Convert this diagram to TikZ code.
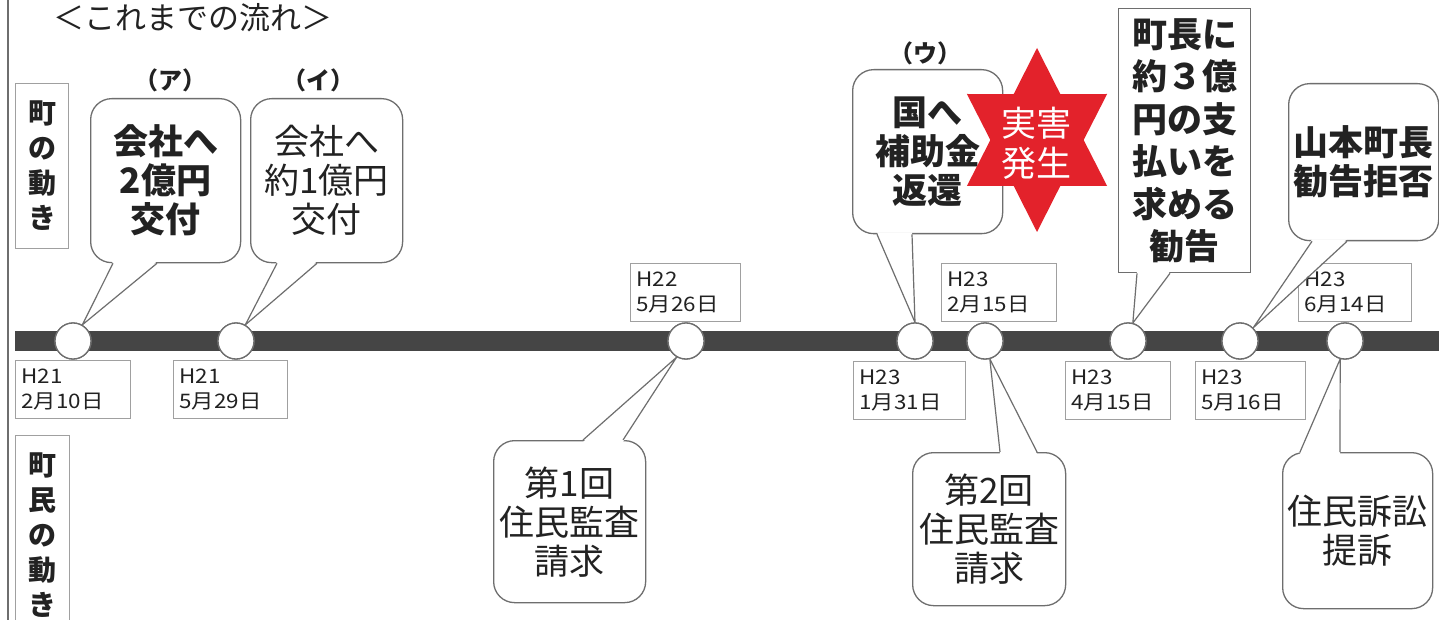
\documentclass[tikz,border=0pt]{standalone}
\usepackage{fontspec}
\setmainfont{Noto Sans CJK JP}
\newfontfamily\datefont{Noto Sans CJK JP}[FakeStretch=1.12]
\usetikzlibrary{calc}
\definecolor{barc}{HTML}{454545}
\definecolor{linec}{HTML}{6E6E6E}
\definecolor{boxc}{HTML}{A0A0A0}
\definecolor{txt}{HTML}{222222}
\definecolor{starc}{HTML}{E3222B}
\tikzset{
  timebar/.style={line width=20pt, draw=barc},
  dot/.style={circle, draw=linec, fill=white, line width=1.3pt, minimum size=36pt, inner sep=0pt},
  datebox/.style={draw=boxc, line width=0.9pt, inner xsep=6pt, inner ysep=3pt, align=left,
    font=\datefont\fontsize{20}{25}\selectfont, text=txt, anchor=north west, minimum height=58pt},
  callout/.style={draw=linec, line width=1.3pt, rounded corners=21pt, fill=white, align=center,
    text=txt, inner sep=0pt},
  rectcall/.style={draw=linec, line width=1.3pt, fill=white, align=center, text=txt, inner sep=0pt},
  big/.style={font=\fontsize{35}{39}\selectfont},
  bigb/.style={font=\fontsize{35}{39}\selectfont\bfseries},
  sidebox/.style={draw=boxc, line width=1pt, align=center, text=txt, inner sep=0pt,
    font=\fontsize{28}{35}\selectfont\bfseries},
  marklabel/.style={text=txt, font=\fontsize{24}{26}\selectfont\bfseries},
  tailline/.style={draw=linec, line width=1.2pt},
}
\newcommand{\calltail}[4]{%
  \fill[white] ($#1+(0,#4)$) -- #3 -- ($#2+(0,#4)$) -- cycle;
  \draw[tailline] #1 -- #3 -- #2;
}
\begin{document}
\begin{tikzpicture}[x=1pt,y=-1pt]
\useasboundingbox (0,0) rectangle (1439,620);
\fill[white] (0,0) rectangle (1439,620);
% left rule
\draw[linec, line width=1.6pt] (8,0) -- (8,620);
% title
\node[text=txt, font=\fontsize{31}{33}\selectfont] (title) at (193,18) {＜これまでの流れ＞};
% side labels
\node[sidebox, minimum width=53pt, minimum height=165pt, anchor=north west] (town) at (15,83) {町\\の\\動\\き};
\node[sidebox, minimum width=54pt, minimum height=200pt, anchor=north west] (people) at (15,435) {町\\民\\の\\動\\き};
% timeline
\draw[timebar] (15,341) -- (1439,341);
% date boxes
\node[datebox, text width=103pt] (d1) at (15,360) {H21\\2月10日};
\node[datebox, text width=102pt] (d2) at (173,360) {H21\\5月29日};
\node[datebox, text width=98pt] (d3) at (630,263) {H22\\5月26日};
\node[datebox, text width=100pt] (d4) at (853,361) {H23\\1月31日};
\node[datebox, text width=103pt] (d5) at (941,263) {H23\\2月15日};
\node[datebox, text width=93pt] (d6) at (1065,361) {H23\\4月15日};
\node[datebox, text width=98pt] (d7) at (1195,361) {H23\\5月16日};
\node[datebox, text width=101pt] (d8) at (1298,263) {H23\\6月14日};
% markers
\node[marklabel] (ma) at (170,80) {（ア）};
\node[marklabel] (mi) at (318,80) {（イ）};
\node[marklabel] (mu) at (925,53) {（ウ）};
% callout bodies
\node[callout, bigb, minimum width=150pt, minimum height=164pt, anchor=north west] (ca) at (90,98) {会社へ\\2億円\\交付};
\node[callout, big, minimum width=152pt, minimum height=164pt, anchor=north west] (ci) at (250,98) {会社へ\\約1億円\\交付};
\node[callout, bigb, minimum width=150pt, minimum height=164pt, anchor=north west] (cu) at (852,69) {国へ\\補助金\\返還};
\node[rectcall, minimum width=132pt, minimum height=264pt, anchor=north west,
      font=\fontsize{35}{42.5}\selectfont\bfseries] (cm) at (1118,8) {町長に\\約３億\\円の支\\払いを\\求める\\勧告};
\node[callout, bigb, minimum width=150pt, minimum height=157pt, anchor=north west] (cy) at (1288,83) {山本町長\\勧告拒否};
\node[callout, big, minimum width=152pt, minimum height=162pt, anchor=north west] (c1b) at (493,440) {第1回\\住民監査\\請求};
\node[callout, big, minimum width=153pt, minimum height=153pt, anchor=north west] (c2b) at (912,452) {第2回\\住民監査\\請求};
\node[callout, big, minimum width=150pt, minimum height=156pt, anchor=north west] (cs) at (1282,452) {住民訴訟\\提訴};
% event points on the bar
\coordinate (p1) at (73,341);
\coordinate (p2) at (236,341);
\coordinate (p3) at (686,341);
\coordinate (p4) at (915,341);
\coordinate (p5) at (985,341);
\coordinate (p6) at (1128,341);
\coordinate (p7) at (1240,341);
\coordinate (p8) at (1345,341);
% tail base points
\coordinate (a1) at ($(ca.south west)+(23,0)$);
\coordinate (a2) at ($(ca.south west)+(67,0)$);
\coordinate (i1) at ($(ci.south west)+(27,0)$);
\coordinate (i2) at ($(ci.south west)+(67,0)$);
\coordinate (u1) at ($(cu.south west)+(25,0)$);
\coordinate (u2) at ($(cu.south west)+(60,0)$);
\coordinate (m1) at ($(cm.south west)+(19,0)$);
\coordinate (m2) at ($(cm.south west)+(52,0)$);
\coordinate (y1) at ($(cy.south west)+(24,0)$);
\coordinate (y2) at ($(cy.south west)+(59,0)$);
\coordinate (f1) at ($(c1b.north west)+(90,0)$);
\coordinate (f2) at ($(c1b.north west)+(130,0)$);
\coordinate (s1) at ($(c2b.north west)+(88,0)$);
\coordinate (s2) at ($(c2b.north west)+(125,0)$);
\coordinate (t1) at ($(cs.north west)+(18,0)$);
\coordinate (t2) at ($(cs.north west)+(58,0)$);
% circles as nodes
\node[dot] (c1) at (p1) {};
\node[dot] (c2) at (p2) {};
\node[dot] (c3) at (p3) {};
\node[dot] (c4) at (p4) {};
\node[dot] (c5) at (p5) {};
\node[dot] (c6) at (p6) {};
\node[dot] (c7) at (p7) {};
\node[dot] (c8) at (p8) {};
% tails
\calltail{(a1)}{(a2)}{(c1.60)}{-2}
\calltail{(i1)}{(i2)}{(c2.60)}{-2}
\calltail{(u1)}{(u2)}{(c4.north)}{-2}
\calltail{(m1)}{(m2)}{(c6.75)}{-2}
\calltail{(y1)}{(y2)}{(c7.45)}{-2}
\calltail{(f1)}{(f2)}{(c3.240)}{2}
\calltail{(s1)}{(s2)}{(c5.285)}{2}
\calltail{(t1)}{(t2)}{(c8.255)}{2}
% redraw circles on top of tails
\node[dot] at (c1) {};
\node[dot] at (c2) {};
\node[dot] at (c3) {};
\node[dot] at (c4) {};
\node[dot] at (c5) {};
\node[dot] at (c6) {};
\node[dot] at (c7) {};
\node[dot] at (c8) {};
% star
\fill[starc, shift={(1037,140)}, xscale=0.88]
  (90:92) -- (120:53) -- (150:92) -- (180:53) -- (210:92) -- (240:53) --
  (270:92) -- (300:53) -- (330:92) -- (0:53) -- (30:92) -- (60:53) -- cycle;
\node[text=white, font=\fontsize{35}{40}\selectfont, align=center] (star) at (1036,143) {実害\\発生};
\end{tikzpicture}
\end{document}
